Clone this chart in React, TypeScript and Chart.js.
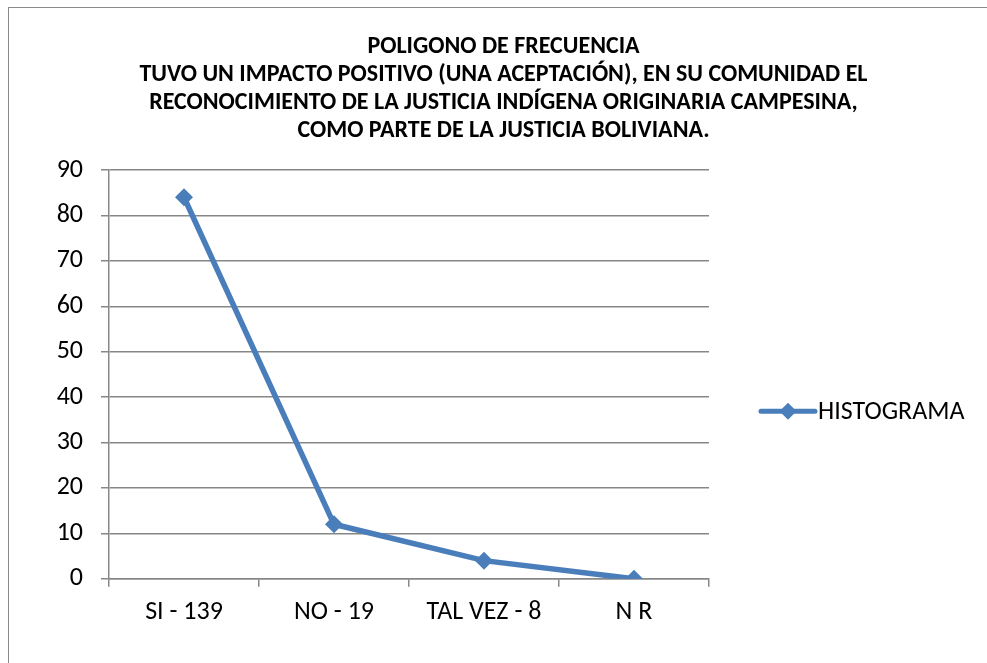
import React, { useEffect, useRef } from "react";
import { Chart, registerables } from "chart.js";

Chart.register(...registerables);

const categories: string[] = ["SI - 139", "NO - 19", "TAL VEZ - 8", "N R"];
const histograma: number[] = [84, 12, 4, 0];
const seriesName = "HISTOGRAMA";
const titleLines: string[] = [
  "POLIGONO DE FRECUENCIA",
  "TUVO UN IMPACTO POSITIVO (UNA ACEPTACIÓN), EN SU COMUNIDAD EL",
  "RECONOCIMIENTO DE LA JUSTICIA INDÍGENA ORIGINARIA CAMPESINA,",
  "COMO PARTE DE LA JUSTICIA BOLIVIANA.",
];
const yMin = 0;
const yMax = 90;
const yStep = 10;

const FONT = "Carlito, 'DejaVu Sans Condensed', sans-serif";
const BLUE = "#4A7EBB";
const GRID = "#878787";

const titlePlugin = {
  id: "customTitle",
  afterDraw(chart: any) {
    const { ctx } = chart;
    ctx.save();
    ctx.fillStyle = "#000";
    ctx.font = `bold 24px ${FONT}`;
    ctx.textAlign = "center";
    ctx.textBaseline = "middle";
    const cx = chart.width / 2 + 10;
    titleLines.forEach((line, i) => {
      ctx.fillText(line, cx, 47 + i * 28);
    });
    ctx.restore();
  },
};

const legendPlugin = {
  id: "customLegend",
  afterDraw(chart: any) {
    const { ctx, chartArea } = chart;
    const x0 = chartArea.right + 52;
    const y = chartArea.top + (chartArea.bottom - chartArea.top) * 0.59;
    ctx.save();
    ctx.strokeStyle = BLUE;
    ctx.lineWidth = 5;
    ctx.lineCap = "round";
    ctx.beginPath();
    ctx.moveTo(x0, y);
    ctx.lineTo(x0 + 54, y);
    ctx.stroke();
    const cx = x0 + 27;
    const r = 8.5;
    ctx.fillStyle = BLUE;
    ctx.beginPath();
    ctx.moveTo(cx, y - r);
    ctx.lineTo(cx + r, y);
    ctx.lineTo(cx, y + r);
    ctx.lineTo(cx - r, y);
    ctx.closePath();
    ctx.fill();
    ctx.fillStyle = "#000";
    ctx.font = `26px ${FONT}`;
    ctx.textAlign = "left";
    ctx.textBaseline = "middle";
    ctx.fillText(seriesName, x0 + 57, y + 1);
    ctx.restore();
  },
};

export default function App() {
  const canvasRef = useRef<HTMLCanvasElement | null>(null);

  useEffect(() => {
    if (!canvasRef.current) return;
    const chart = new Chart(canvasRef.current, {
      type: "line",
      data: {
        labels: categories,
        datasets: [
          {
            label: seriesName,
            data: histograma,
            borderColor: BLUE,
            backgroundColor: BLUE,
            borderWidth: 5.5,
            pointStyle: "rectRot",
            pointRadius: 9,
            pointBorderWidth: 0,
            pointBackgroundColor: BLUE,
            tension: 0,
          },
        ],
      },
      options: {
        animation: false,
        responsive: false,
        maintainAspectRatio: false,
        layout: { padding: { left: 0, right: 278, top: 170, bottom: 25 } },
        plugins: {
          legend: { display: false },
          tooltip: { enabled: false },
          title: { display: false },
        },
        scales: {
          x: {
            offset: true,
            grid: {
              offset: true,
              drawOnChartArea: false,
              drawTicks: true,
              tickLength: 8,
              color: GRID,
              lineWidth: 1.5,
            },
            border: { display: true, color: GRID, width: 1.5 },
            ticks: {
              color: "#000",
              font: { family: FONT, size: 26 },
              padding: 10,
              maxRotation: 0,
            },
          },
          y: {
            min: yMin,
            max: yMax,
            afterFit: (scale: any) => {
              scale.width = 109;
            },
            ticks: {
              stepSize: yStep,
              color: "#000",
              font: { family: FONT, size: 26 },
              padding: 18,
            },
            grid: {
              color: GRID,
              lineWidth: 1.5,
              drawTicks: true,
              tickLength: 8,
            },
            border: { display: true, color: GRID, width: 1.5 },
          },
        },
      },
      plugins: [titlePlugin, legendPlugin],
    });
    return () => chart.destroy();
  }, []);

  return (
    <div style={{ position: "fixed", left: 0, top: 0, width: 987, height: 663, background: "#fff", overflow: "hidden" }}>
      <div
        style={{
          position: "absolute",
          left: 8,
          top: 7,
          width: 1000,
          height: 700,
          borderLeft: "1.5px solid #8a8a8a",
          borderTop: "1.5px solid #8a8a8a",
        }}
      />
      <canvas ref={canvasRef} width={987} height={663} style={{ position: "absolute", left: 0, top: 0 }} />
    </div>
  );
}
